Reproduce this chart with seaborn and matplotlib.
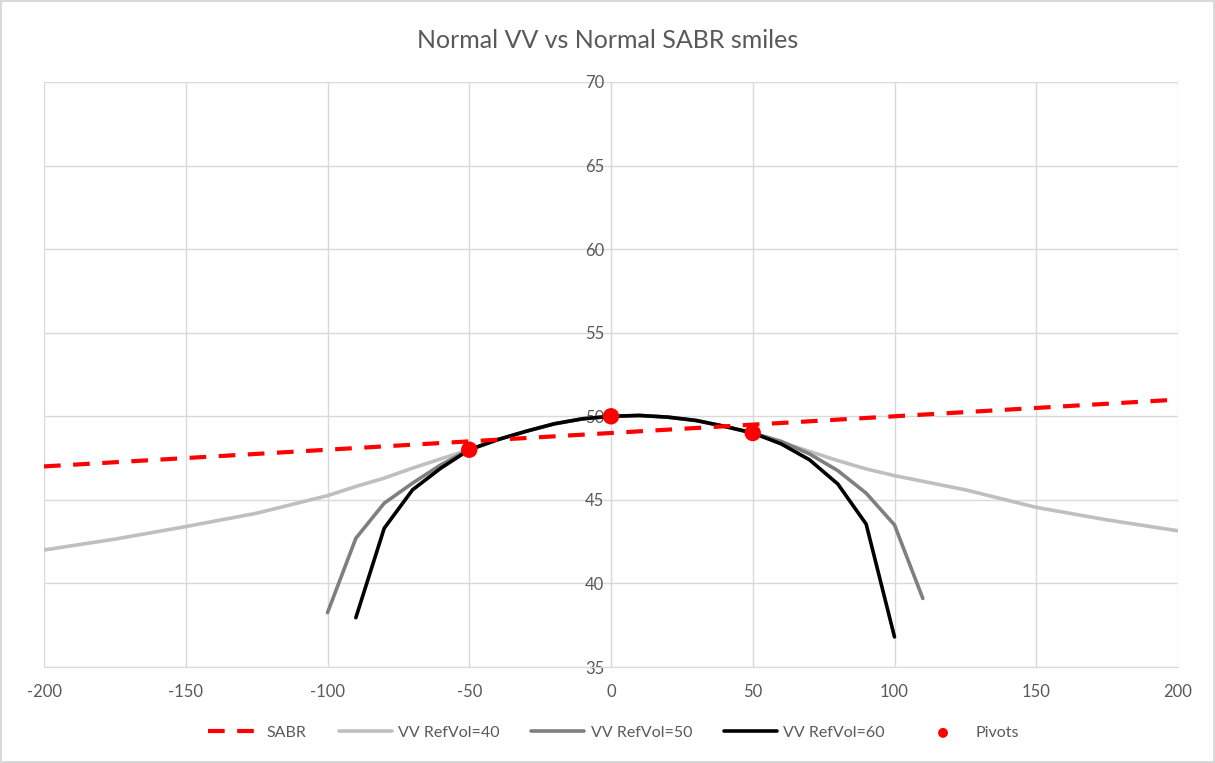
import numpy as np
import pandas as pd
import matplotlib
matplotlib.use('Agg')
import matplotlib.pyplot as plt
import seaborn as sns
sns.set_style('white')
plt.rcParams['font.family'] = ['Lato', 'DejaVu Sans']
plt.rcParams['axes.unicode_minus'] = False

# SABR smile (straight skew line)
sabr_x = [-200, -100, 0, 100, 200]
sabr_y = [47.0, 48.0, 49.0, 50.0, 51.0]

# common part of the VV smiles between the outer pivots
mid_x = [-50, -40, -30, -20, -10, 0, 10, 20, 30, 40, 50]
mid_y = [48.0, 48.6, 49.1, 49.55, 49.85, 50.0, 50.05, 49.95, 49.75, 49.4, 49.0]

vv40_left_x = [-200, -175, -150, -125, -100, -90, -80, -70, -60]
vv40_left_y = [42.0, 42.65, 43.4, 44.2, 45.25, 45.8, 46.3, 46.9, 47.45]
vv40_right_x = [60, 70, 80, 90, 100, 125, 150, 175, 200]
vv40_right_y = [48.45, 47.9, 47.35, 46.85, 46.45, 45.6, 44.55, 43.8, 43.15]

vv50_left_x = [-100, -90, -80, -70, -60]
vv50_left_y = [38.25, 42.7, 44.8, 46.0, 47.1]
vv50_right_x = [60, 70, 80, 90, 100, 110]
vv50_right_y = [48.5, 47.75, 46.75, 45.4, 43.5, 39.1]

vv60_left_x = [-90, -80, -70, -60]
vv60_left_y = [37.95, 43.3, 45.6, 46.9]
vv60_right_x = [60, 70, 80, 90, 100]
vv60_right_y = [48.35, 47.4, 45.95, 43.55, 36.8]

pivot_x = [-50, 0, 50]
pivot_y = [48.0, 50.0, 49.0]

x_ticks = [-200, -150, -100, -50, 0, 50, 100, 150, 200]
y_ticks = [35, 40, 45, 50, 55, 60, 65, 70]

txt = '#595959'
grid_c = '#d9d9d9'

fig = plt.figure(figsize=(12.15, 7.63), dpi=100)
fig.patch.set_edgecolor(grid_c)
fig.patch.set_linewidth(1.5)
ax = fig.add_axes([44 / 1215, 1 - 667 / 763, (1178 - 44) / 1215, (667 - 82) / 763])

sabr = pd.DataFrame({'x': sabr_x, 'y': sabr_y})
sns.lineplot(data=sabr, x='x', y='y', ax=ax, color='#ff0000', lw=3,
             linestyle=(0, (4, 3)), label='SABR', zorder=3)

series = [
    ('VV RefVol=40', '#bfbfbf', vv40_left_x, vv40_left_y, vv40_right_x, vv40_right_y),
    ('VV RefVol=50', '#7f7f7f', vv50_left_x, vv50_left_y, vv50_right_x, vv50_right_y),
    ('VV RefVol=60', '#000000', vv60_left_x, vv60_left_y, vv60_right_x, vv60_right_y),
]
for i, (name, col, lx, ly, rx, ry) in enumerate(series):
    df = pd.DataFrame({'x': lx + mid_x + rx, 'y': ly + mid_y + ry})
    sns.lineplot(data=df, x='x', y='y', ax=ax, color=col, lw=2.6, sort=False,
                 label=name, zorder=2 + i * 0.1)

piv = pd.DataFrame({'x': pivot_x, 'y': pivot_y})
sns.scatterplot(data=piv, x='x', y='y', ax=ax, color='#ff0000', s=140,
                edgecolor='none', label='Pivots', zorder=5)

ax.set_xlim(-200, 200)
ax.set_ylim(35, 70)
ax.set_xticks(x_ticks)
ax.set_yticks(y_ticks)
ax.set_xlabel('')
ax.set_ylabel('')
ax.grid(True, color=grid_c, lw=1)
ax.set_axisbelow(True)

ax.spines['left'].set_position(('data', 0))
ax.spines['left'].set_color(grid_c)
ax.spines['bottom'].set_color(grid_c)
ax.spines['right'].set_visible(False)
ax.spines['top'].set_visible(False)
ax.tick_params(axis='both', length=0, labelsize=12, labelcolor=txt)
ax.tick_params(axis='x', pad=12)
ax.tick_params(axis='y', pad=5)

fig.text(0.5, 1 - 40 / 763, 'Normal VV vs Normal SABR smiles', ha='center', va='center',
         fontsize=18, color=txt)

h, l = ax.get_legend_handles_labels()
ax.legend_.remove()
fig.legend(h, l, loc='center', bbox_to_anchor=(0.505, 1 - 733 / 763), ncol=5,
           frameon=False, fontsize=11.5, labelcolor=txt, handlelength=3.3,
           handletextpad=0.4, columnspacing=2.0, markerscale=0.6)

fig.savefig('out.png', dpi=100, edgecolor=fig.get_edgecolor())
